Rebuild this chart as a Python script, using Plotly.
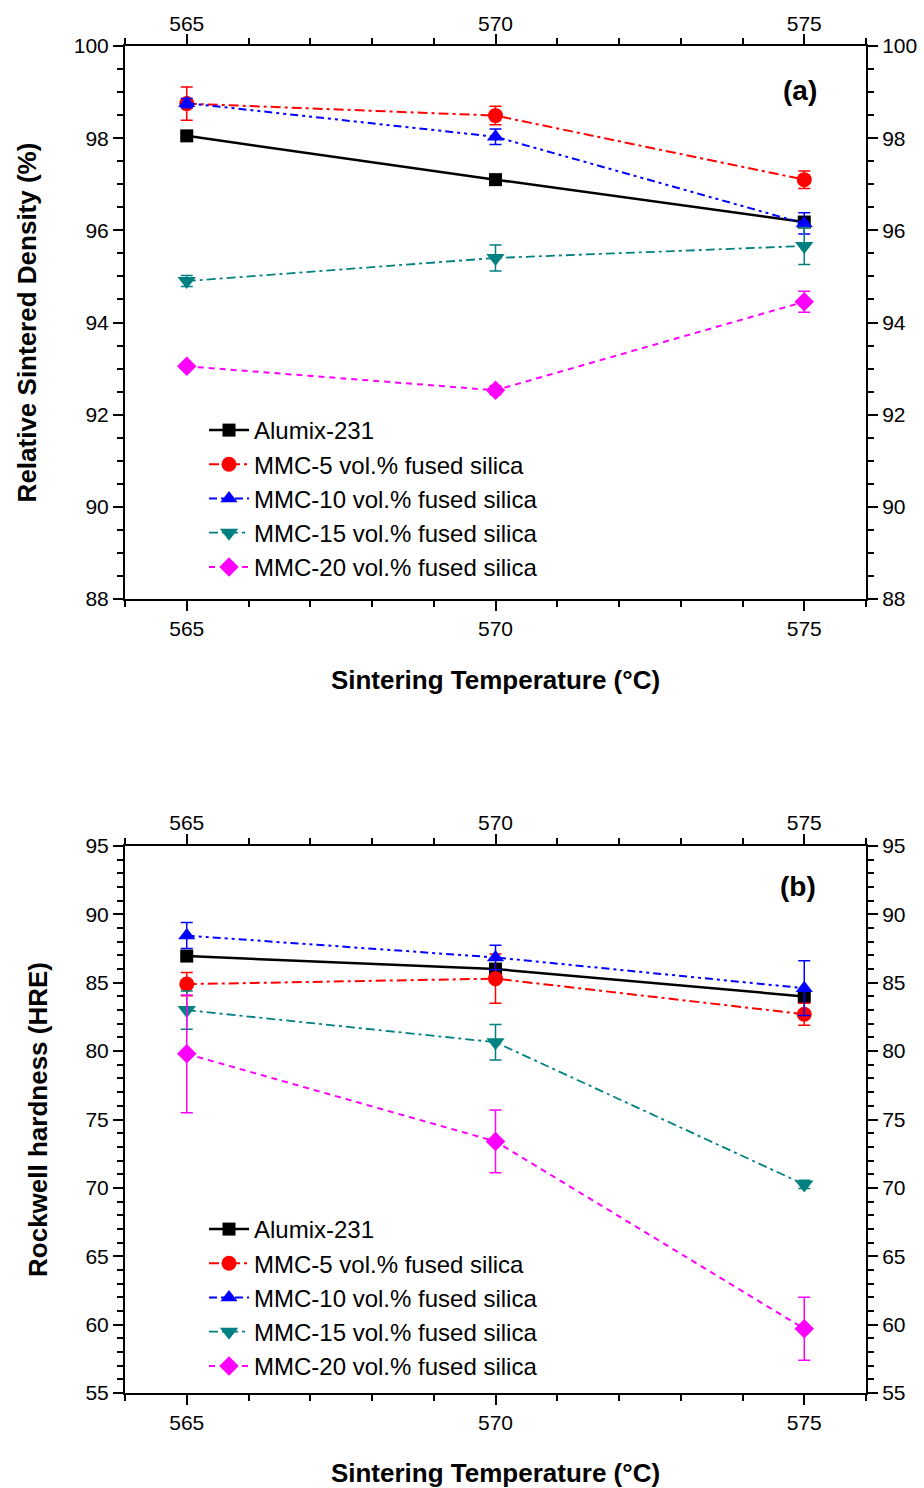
import plotly.graph_objects as go

# Sintering temperatures (°C)
temps = [565, 570, 575]
temp_ticks = [565, 570, 575]

series_names = [
    "Alumix-231",
    "MMC-5 vol.% fused silica",
    "MMC-10 vol.% fused silica",
    "MMC-15 vol.% fused silica",
    "MMC-20 vol.% fused silica",
]

# Relative sintered density (%) and standard deviations
density_alumix = [98.05, 97.10, 96.18]
density_alumix_err = [0.05, 0.05, 0.05]
density_mmc5 = [98.75, 98.49, 97.10]
density_mmc5_err = [0.36, 0.20, 0.19]
density_mmc10 = [98.76, 98.03, 96.15]
density_mmc10_err = [0.10, 0.17, 0.23]
density_mmc15 = [94.90, 95.40, 95.66]
density_mmc15_err = [0.12, 0.28, 0.40]
density_mmc20 = [93.05, 92.53, 94.45]
density_mmc20_err = [0.05, 0.10, 0.23]

# Rockwell hardness (HRE) and standard deviations
hard_alumix = [86.95, 86.00, 84.00]
hard_alumix_err = [0.2, 0.2, 0.2]
hard_mmc5 = [84.90, 85.30, 82.70]
hard_mmc5_err = [0.85, 1.80, 0.80]
hard_mmc10 = [88.45, 86.85, 84.60]
hard_mmc10_err = [0.95, 0.90, 2.00]
hard_mmc15 = [83.00, 80.65, 70.25]
hard_mmc15_err = [1.40, 1.30, 0.30]
hard_mmc20 = [79.80, 73.40, 59.70]
hard_mmc20_err = [4.30, 2.30, 2.30]

density_ticks = [88, 90, 92, 94, 96, 98, 100]
hardness_ticks = [55, 60, 65, 70, 75, 80, 85, 90, 95]

styles = [
    dict(color="#000000", dash="solid", width=2.5, symbol="square", size=13),
    dict(color="#FF0000", dash="10px,4px,3px,4px", width=2, symbol="circle", size=15),
    dict(color="#0000FF", dash="8px,4px,3px,4px,3px,4px", width=2, symbol="triangle-up", size=15),
    dict(color="#008080", dash="9px,4px,3px,4px", width=1.8, symbol="triangle-down", size=16),
    dict(color="#FF00FF", dash="6px,5px", width=2, symbol="diamond", size=15),
]

density = [density_alumix, density_mmc5, density_mmc10, density_mmc15, density_mmc20]
density_err = [density_alumix_err, density_mmc5_err, density_mmc10_err,
               density_mmc15_err, density_mmc20_err]
hardness = [hard_alumix, hard_mmc5, hard_mmc10, hard_mmc15, hard_mmc20]
hardness_err = [hard_alumix_err, hard_mmc5_err, hard_mmc10_err,
                hard_mmc15_err, hard_mmc20_err]

FONT = "Liberation Sans, Arial, sans-serif"

fig = go.Figure()


def add_series(values, errors, xa, ya, legend):
    for name, vals, errs, st in zip(series_names, values, errors, styles):
        fig.add_trace(go.Scatter(
            x=temps, y=vals, name=name, mode="lines+markers",
            xaxis=xa, yaxis=ya, legend=legend,
            line=dict(color=st["color"], dash=st["dash"], width=st["width"]),
            marker=dict(symbol=st["symbol"], size=st["size"], color=st["color"],
                        line=dict(width=0)),
            error_y=dict(type="data", array=errs, visible=True,
                         color=st["color"], thickness=1.5, width=6),
        ))


def add_frame_axes(values, xa, ya):
    # invisible carrier trace so the mirrored top/right axes get rendered
    fig.add_trace(go.Scatter(
        x=temps, y=values, xaxis=xa, yaxis=ya, mode="markers",
        marker=dict(opacity=0), showlegend=False, hoverinfo="skip",
    ))


add_series(density, density_err, "x", "y", "legend")
add_series(hardness, hardness_err, "x2", "y2", "legend2")
add_frame_axes(density_alumix, "x3", "y3")
add_frame_axes(hard_alumix, "x4", "y4")

W, H = 924, 1488
x_dom = [125 / W, 866 / W]
top_dom = [1 - 599 / H, 1 - 46 / H]
bot_dom = [1 - 1393 / H, 1 - 846 / H]

tick_font = dict(family=FONT, size=21, color="black")
title_font = dict(family=FONT, size=26, color="black")


def x_common(label_shift=0):
    return dict(
        range=[564, 576], tickvals=temp_ticks, ticks="outside", ticklen=10,
        tickwidth=2, tickcolor="black", showline=True, linewidth=2,
        linecolor="black", showgrid=False, zeroline=False, tickfont=tick_font,
        automargin=False, ticklabelstandoff=label_shift,
        minor=dict(dtick=1, tick0=564, ticks="outside", ticklen=6, tickwidth=2,
                   tickcolor="black", showgrid=False),
    )


def y_common(rng, tickvals, minor_dtick):
    return dict(
        range=rng, tickvals=tickvals, ticks="outside", ticklen=10,
        tickwidth=2, tickcolor="black", showline=True, linewidth=2,
        linecolor="black", showgrid=False, zeroline=False, tickfont=tick_font,
        automargin=False,
        minor=dict(dtick=minor_dtick, tick0=rng[0], ticks="outside", ticklen=6,
                   tickwidth=2, tickcolor="black", showgrid=False),
    )


xt = "<b>Sintering Temperature (°C)</b>"
legend_font = dict(family=FONT, size=24, color="black")
panel_font = dict(family=FONT, size=28, color="black")

fig.update_layout(
    width=W, height=H,
    margin=dict(l=0, r=0, t=0, b=0, autoexpand=False),
    paper_bgcolor="white", plot_bgcolor="white",
    font=dict(family=FONT, color="black"),
    showlegend=True,
    xaxis=dict(domain=x_dom, anchor="y", side="bottom",
               title=dict(text=xt, font=title_font, standoff=32), **x_common()),
    yaxis=dict(domain=top_dom, anchor="x", side="left",
               title=dict(text="<b>Relative Sintered Density (%)</b>",
                          font=title_font, standoff=30),
               **y_common([88, 100], density_ticks, 0.5)),
    xaxis3=dict(overlaying="x", anchor="y", side="top", **x_common(-5)),
    yaxis3=dict(overlaying="y", anchor="x", side="right",
                **y_common([88, 100], density_ticks, 0.5)),
    xaxis2=dict(domain=x_dom, anchor="y2", side="bottom",
                title=dict(text=xt, font=title_font, standoff=31), **x_common()),
    yaxis2=dict(domain=bot_dom, anchor="x2", side="left",
                title=dict(text="<b>Rockwell hardness (HRE)</b>",
                           font=title_font, standoff=30),
                **y_common([55, 95], hardness_ticks, 1)),
    xaxis4=dict(overlaying="x2", anchor="y2", side="top", **x_common(-4)),
    yaxis4=dict(overlaying="y2", anchor="x2", side="right",
                **y_common([55, 95], hardness_ticks, 1)),
    legend=dict(x=204 / W, y=1 - 408 / H, xanchor="left", yanchor="top",
                bgcolor="rgba(0,0,0,0)", font=legend_font,
                itemwidth=40, tracegroupgap=0),
    legend2=dict(x=204 / W, y=1 - 1207 / H, xanchor="left", yanchor="top",
                 bgcolor="rgba(0,0,0,0)", font=legend_font,
                 itemwidth=40, tracegroupgap=0),
    annotations=[
        dict(text="<b>(a)</b>", x=800 / W, y=1 - 90 / H, xref="paper", yref="paper",
             xanchor="center", yanchor="middle", showarrow=False, font=panel_font),
        dict(text="<b>(b)</b>", x=798 / W, y=1 - 886 / H, xref="paper", yref="paper",
             xanchor="center", yanchor="middle", showarrow=False, font=panel_font),
    ],
)

fig.write_html("out.html")
